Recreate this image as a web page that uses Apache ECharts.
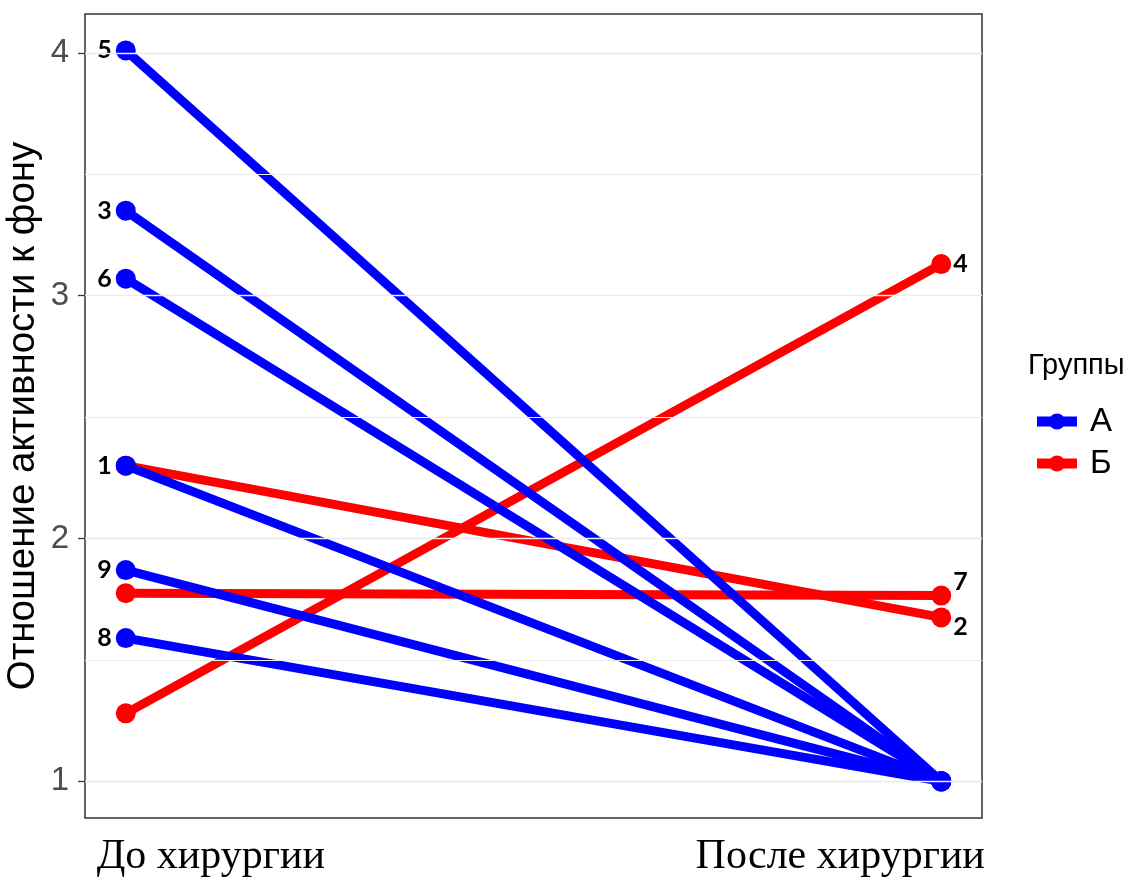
<!DOCTYPE html>
<html>
<head>
<meta charset="utf-8">
<script src="https://cdn.jsdelivr.net/npm/echarts@6/dist/echarts.min.js"></script>
<style>
html,body{margin:0;padding:0;background:#fff;}
#chart{width:1132px;height:886px;}
</style>
</head>
<body>
<div id="chart"></div>
<script>
// ---- data ----
const categories = ['До хирургии', 'После хирургии'];
const patientIds = ['5', '3', '6', '1', '9', '8', '4', '7', '2'];
const groups     = ['А', 'А', 'А', 'А', 'А', 'А', 'Б', 'Б', 'Б'];
const before     = [4.01, 3.35, 3.07, 2.30, 1.87, 1.59, 1.28, 1.775, 2.30];
const after      = [1.00, 1.00, 1.00, 1.00, 1.00, 1.00, 3.13, 1.765, 1.675];
const yTicks     = [1, 2, 3, 4];
const yMinorGrid = [1.5, 2.5, 3.5];
const groupNames = ['А', 'Б'];

// ---- styles ----
const groupColors = { 'А': '#0000FF', 'Б': '#FF0000' };
const labelOffsets = { '7': [0, -14], '2': [0, 10] };

const chart = echarts.init(document.getElementById('chart'));

const lineSeries = [];
// draw red group first, blue on top
const order = [];
patientIds.forEach((p, i) => { if (groups[i] === 'Б') order.push(i); });
patientIds.forEach((p, i) => { if (groups[i] === 'А') order.push(i); });

order.forEach(i => {
  const g = groups[i];
  const labelOnLeft = g === 'А';
  const pid = patientIds[i];
  lineSeries.push({
    type: 'line',
    name: g,
    data: [
      { value: [0, before[i]], label: { show: labelOnLeft } },
      { value: [1, after[i]], label: { show: !labelOnLeft } }
    ],
    color: groupColors[g],
    lineStyle: { width: 9, color: groupColors[g] },
    symbol: 'circle',
    symbolSize: 20,
    itemStyle: { color: groupColors[g] },
    z: g === 'А' ? 3 : 2,
    label: {
      position: labelOnLeft ? 'left' : 'right',
      distance: labelOnLeft ? 4 : 2,
      offset: labelOffsets[pid] || [0, 0],
      formatter: () => pid,
      fontFamily: 'Lato',
      fontWeight: 'bold',
      fontSize: 25,
      color: '#000'
    },
    emphasis: { disabled: true },
    animation: false
  });
});

// grid lines series
lineSeries.unshift({
  type: 'line',
  data: [],
  silent: true,
  markLine: {
    silent: true,
    symbol: 'none',
    label: { show: false },
    animation: false,
    data: yTicks.concat(yMinorGrid).map(v => ({
      yAxis: v,
      lineStyle: { color: '#ebebeb', width: yTicks.includes(v) ? 1.3 : 1, type: 'solid' }
    }))
  },
  z: 1
});

const option = {
  backgroundColor: '#fff',
  animation: false,
  grid: {
    left: 85, top: 14, right: 150, bottom: 68,
    outerBoundsMode: 'none',
    containLabel: false,
    show: true, borderColor: '#333', borderWidth: 1.5, backgroundColor: 'transparent'
  },
  title: {
    text: 'Группы',
    left: 1023, top: 346,
    textStyle: { fontFamily: 'Liberation Sans', fontSize: 29, fontWeight: 'normal', color: '#000' }
  },
  legend: {
    data: groupNames,
    orient: 'vertical',
    left: 1027, top: 400,
    itemWidth: 40, itemHeight: 20,
    itemGap: 9,
    lineStyle: { width: 10 },
    textStyle: { fontFamily: 'Liberation Sans', fontSize: 33, color: '#000', padding: [0, 0, 0, 8] },
    selectedMode: false
  },
  xAxis: {
    type: 'value',
    min: -0.05, max: 1.05,
    axisLine: { show: false, onZero: false },
    axisTick: { show: false },
    splitLine: { show: false },
    axisLabel: {
      customValues: [0, 1],
      formatter: v => (v < 0.5 ? '{l|' : '{r|') + categories[Math.round(v)] + '}',
      fontFamily: 'Liberation Serif',
      fontSize: 42,
      color: '#000',
      margin: 18,
      rich: {
        l: { fontFamily: 'Liberation Serif', fontSize: 42, color: '#000', padding: [0, 0, 0, 170] },
        r: { fontFamily: 'Liberation Serif', fontSize: 42, color: '#000', padding: [0, 202, 0, 0] }
      }
    }
  },
  yAxis: {
    type: 'value',
    min: 0.849, max: 4.16,
    name: 'Отношение активности к фону',
    nameLocation: 'middle',
    nameGap: 42,
    nameMoveOverlap: false,
    nameTextStyle: { fontFamily: 'Liberation Sans', fontSize: 38.5, color: '#000' },
    axisLine: { show: false, onZero: false },
    axisTick: { show: true, customValues: yTicks, length: 7, lineStyle: { color: '#333', width: 1.3 } },
    splitLine: { show: false },
    axisLabel: {
      customValues: yTicks,
      formatter: v => String(v),
      fontFamily: 'Liberation Sans',
      fontSize: 33,
      color: '#4d4d4d',
      margin: 16
    }
  },
  series: lineSeries
};

chart.setOption(option);
</script>
</body>
</html>
